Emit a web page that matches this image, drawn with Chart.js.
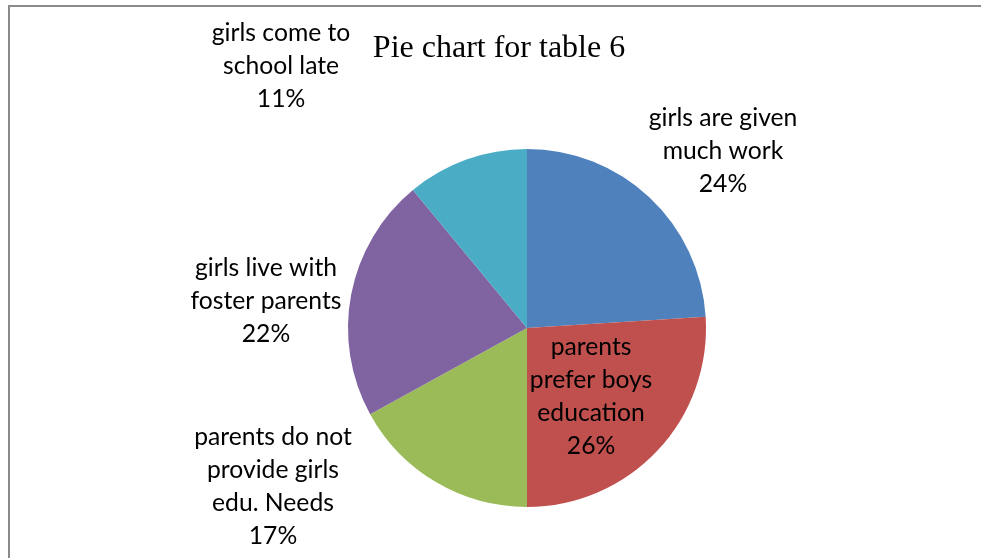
<!DOCTYPE html>
<html>
<head>
<meta charset="utf-8">
<script src="https://cdn.jsdelivr.net/npm/chart.js@4.4.1/dist/chart.umd.min.js"></script>
<style>
  html, body { margin: 0; padding: 0; background: #fff; }
  #wrap { width: 981px; height: 558px; position: relative; }
</style>
</head>
<body>
<div id="wrap"><canvas id="pie" width="981" height="558"></canvas></div>
<script>
// table 6 categories and their shares (%)
const categories = [
  ['girls are given', 'much work'],
  ['parents', 'prefer boys', 'education'],
  ['parents do not', 'provide girls', 'edu. Needs'],
  ['girls live with', 'foster parents'],
  ['girls come to', 'school late']
];
const shares = [24, 26, 17, 22, 11];
const colors = ['#4F81BD', '#C0504D', '#9BBB59', '#8064A2', '#4BACC6'];

// where each label block sits, relative to the pie centre, in radius units
const labelOffsets = [
  [1.095, -0.99],
  [0.358, 0.383],
  [-1.419, 0.887],
  [-1.458, -0.153],
  [-1.374, -1.462]
];

const LABEL_FONT = '24.7px Lato, "Open Sans", sans-serif';
const LINE_H = 33;

const labelsPlugin = {
  id: 'pieLabels',
  afterDraw(chart) {
    const ctx = chart.ctx;
    const arcs = chart.getDatasetMeta(0).data;
    ctx.save();

    // frame lines on the top and left
    ctx.strokeStyle = '#8a8a8a';
    ctx.lineWidth = 2;
    ctx.beginPath();
    ctx.moveTo(9, chart.height);
    ctx.lineTo(9, 6);
    ctx.lineTo(chart.width, 6);
    ctx.stroke();

    // title
    ctx.fillStyle = '#000';
    ctx.font = '32px "Liberation Serif", "Times New Roman", serif';
    ctx.textAlign = 'center';
    ctx.textBaseline = 'alphabetic';
    ctx.fillText('Pie chart for table 6', 499, 57);

    // data labels: category lines + percentage
    ctx.font = LABEL_FONT;
    ctx.textBaseline = 'middle';
    arcs.forEach((arc, i) => {
      const r = arc.outerRadius;
      const cx = arc.x + labelOffsets[i][0] * r;
      const cy = arc.y + labelOffsets[i][1] * r;
      const lines = categories[i].concat([shares[i] + '%']);
      const top = cy - (lines.length - 1) * LINE_H / 2;
      lines.forEach((t, k) => ctx.fillText(t, cx, top + k * LINE_H));
    });
    ctx.restore();
  }
};

new Chart(document.getElementById('pie'), {
  type: 'pie',
  data: {
    labels: categories.map(c => c.join(' ')),
    datasets: [{
      data: shares,
      backgroundColor: colors,
      borderWidth: 0
    }]
  },
  options: {
    responsive: false,
    animation: false,
    layout: { padding: { top: 149, bottom: 51, left: 348, right: 275 } },
    plugins: {
      legend: { display: false },
      title: { display: false },
      tooltip: { enabled: false }
    }
  },
  plugins: [labelsPlugin]
});
</script>
</body>
</html>
